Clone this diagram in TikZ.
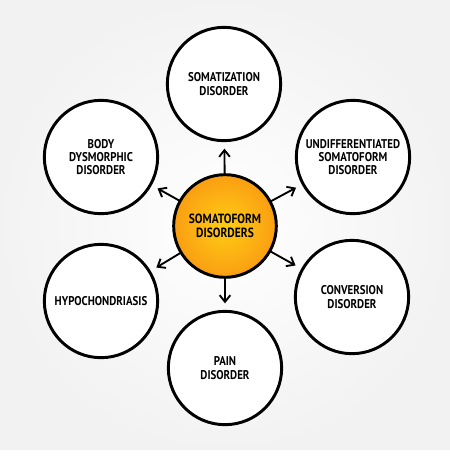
\documentclass[tikz,border=0pt]{standalone}
\usepackage{fontspec}
\setmainfont{PT Sans}[FakeStretch=0.86]
\usetikzlibrary{arrows.meta}

\begin{document}
\begin{tikzpicture}[
    x = 0.75pt,
    y = -0.75pt,
    >={Straight Barb[length=5pt,width=8pt,line width=1.4pt]},
    topic/.style = {circle, draw=black, line width=2.2pt, fill=white,
              minimum size=85pt, inner sep=0pt, outer sep=0pt,
              align=center, font=\bfseries\fontsize{9.5}{10}\selectfont},
    core/.style = {circle, draw=black, line width=2.2pt,
              inner color={rgb,255:red,255;green,205;blue,20},
              outer color={rgb,255:red,250;green,158;blue,18},
              minimum size=77pt, inner sep=0pt, outer sep=0pt,
              align=center, font=\bfseries\fontsize{10}{10.5}\selectfont},
    link/.style = {->, black, line width=1.4pt, shorten >=6pt},
    ]

% background
\shade[inner color=white, outer color=black!5] (0,0) rectangle (450,450);
\fill[white] (0,450) rectangle (450,469);
\useasboundingbox (0,0) rectangle (450,469);

\node[core] (somatoform) at (225,226){SOMATOFORM\\DISORDERS};

\node[topic] (somatization) at (224,84){SOMATIZATION\\DISORDER};
\node[topic] (dysmorphic) at (101,157){BODY\\DYSMORPHIC\\DISORDER};
\node[topic] (undiff) at (353,157){UNDIFFERENTIATED\\SOMATOFORM\\DISORDER};
\node[topic] (hypochondriasis) at (101,301){HYPOCHONDRIASIS};
\node[topic] (conversion) at (352,297){CONVERSION\\DISORDER};
\node[topic] (pain) at (225,368){PAIN\\DISORDER};

\draw [link] (somatoform) -- (somatization);
\draw [link] (somatoform) -- (dysmorphic);
\draw [link] (somatoform) -- (undiff);
\draw [link] (somatoform) -- (hypochondriasis);
\draw [link] (somatoform) -- (conversion);
\draw [link] (somatoform) -- (pain);

\end{tikzpicture}
\end{document}
